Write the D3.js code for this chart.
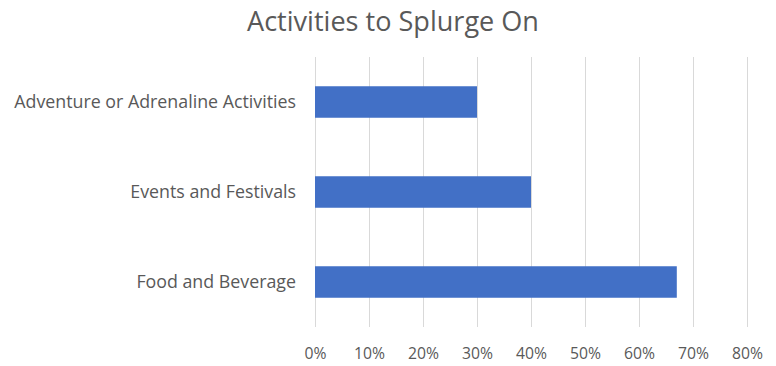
<!DOCTYPE html>
<html>
<head>
<meta charset="utf-8">
<script src="https://cdn.jsdelivr.net/npm/d3@7"></script>
<style>
  html, body { margin: 0; padding: 0; background: #fff; }
  svg { display: block; }
  text { font-family: "Open Sans", Lato, sans-serif; fill: #595959; }
</style>
</head>
<body>
<svg id="chart" width="776" height="366"></svg>
<script>
const categories = ["Adventure or Adrenaline Activities", "Events and Festivals", "Food and Beverage"];
const values = [0.30, 0.40, 0.67];
const tickValues = [0, 0.1, 0.2, 0.3, 0.4, 0.5, 0.6, 0.7, 0.8];
const title = "Activities to Splurge On";

const svg = d3.select("#chart");
const plot = { left: 315, right: 747, top: 57, bottom: 327 };

const x = d3.scaleLinear().domain([0, 0.8]).range([plot.left, plot.right]);
const y = d3.scaleBand().domain(categories).range([plot.top, plot.bottom])
  .paddingInner(0.65).paddingOuter(0.325);

// scale a text selection's font so its widest item spans the given width
function fitWidth(sel, baseSize, width) {
  sel.style("font-size", baseSize + "px");
  const widest = d3.max(sel.nodes(), n => n.getComputedTextLength());
  sel.style("font-size", (baseSize * width / widest).toFixed(2) + "px");
}

// title
const titleText = svg.append("text")
  .attr("x", 393).attr("y", 31)
  .attr("text-anchor", "middle")
  .text(title);
fitWidth(titleText, 24, 292);

// vertical gridlines
svg.append("g")
  .selectAll("line")
  .data(tickValues)
  .join("line")
  .attr("x1", d => Math.round(x(d)) + 0.5)
  .attr("x2", d => Math.round(x(d)) + 0.5)
  .attr("y1", plot.top)
  .attr("y2", plot.bottom)
  .attr("stroke", "#d9d9d9")
  .attr("stroke-width", 1);

// bars
svg.append("g")
  .selectAll("rect")
  .data(categories)
  .join("rect")
  .attr("x", x(0))
  .attr("y", d => y(d))
  .attr("width", (d, i) => x(values[i]) - x(0))
  .attr("height", y.bandwidth())
  .attr("fill", "#4270c6");

// x axis tick labels
const xAxis = d3.axisBottom(x).tickValues(tickValues).tickFormat(d3.format(".0%")).tickSize(0).tickPadding(0);
const gx = svg.append("g").attr("transform", `translate(0,${plot.bottom})`).call(xAxis);
gx.select(".domain").remove();
gx.selectAll("text")
  .attr("dy", null)
  .attr("y", 32)
  .style("fill", "#595959")
  .style("font-family", "'Open Sans', Lato, sans-serif");
fitWidth(gx.selectAll("text"), 14, 31);

// y axis category labels
const yAxis = d3.axisLeft(y).tickSize(0).tickPadding(19);
const gy = svg.append("g").attr("transform", `translate(${plot.left},0)`).call(yAxis);
gy.select(".domain").remove();
gy.selectAll("text")
  .style("fill", "#595959")
  .style("font-family", "'Open Sans', Lato, sans-serif");
fitWidth(gy.selectAll("text"), 15, 282);
</script>
</body>
</html>
